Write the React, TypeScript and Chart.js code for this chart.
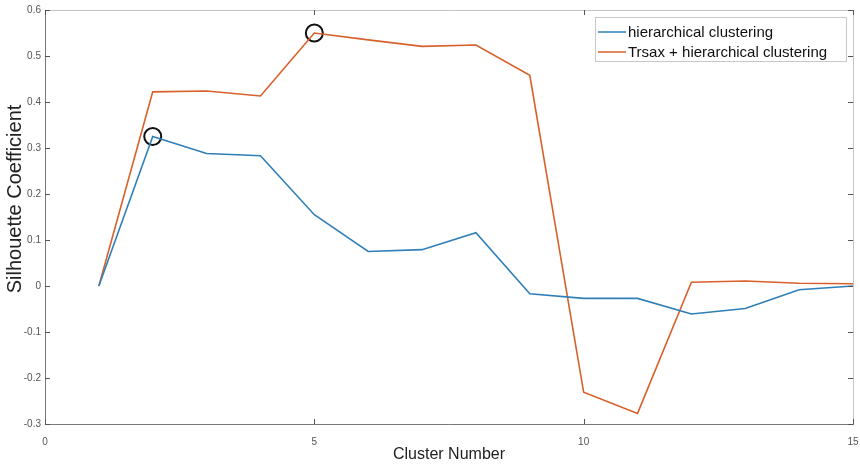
import React, { useEffect, useRef } from "react";
import { Chart, registerables } from "chart.js";

Chart.register(...registerables);

const clusterNumbers = [1, 2, 3, 4, 5, 6, 7, 8, 9, 10, 11, 12, 13, 14, 15];
const hierarchical = [0, 0.325, 0.288, 0.283, 0.155, 0.075, 0.079, 0.116, -0.017, -0.027, -0.027, -0.061, -0.049, -0.008, 0.0];
const trsaxHierarchical = [0, 0.422, 0.424, 0.413, 0.55, 0.535, 0.521, 0.524, 0.458, -0.231, -0.277, 0.008, 0.011, 0.006, 0.005];
const highlightX = [2, 5];
const highlightY = [0.325, 0.55];
const seriesLabels = ["hierarchical clustering", "Trsax + hierarchical clustering"];
const seriesColors = ["#2f7fb8", "#d8602a"];
const xTitle = "Cluster Number";
const yTitle = "Silhouette Coefficient";

const FONT = "'Liberation Sans', Arial, sans-serif";

const decorPlugin = {
  id: "decor",
  afterDraw(chart: any) {
    const { ctx, chartArea } = chart;
    const { left, right, top, bottom } = chartArea;
    const xs = chart.scales.x;
    const ys = chart.scales.y;
    ctx.save();
    // top/right box lines
    ctx.strokeStyle = "#c4c4c4";
    ctx.lineWidth = 1;
    ctx.beginPath();
    ctx.moveTo(left, top + 0.5);
    ctx.lineTo(right + 0.5, top + 0.5);
    ctx.lineTo(right + 0.5, bottom);
    ctx.stroke();
    // inward ticks
    ctx.strokeStyle = "#555";
    ctx.beginPath();
    const tl = 5;
    xs.ticks.forEach((t: any) => {
      const px = Math.round(xs.getPixelForValue(t.value)) + 0.5;
      ctx.moveTo(px, bottom);
      ctx.lineTo(px, bottom - tl);
      ctx.moveTo(px, top);
      ctx.lineTo(px, top + tl);
    });
    ys.ticks.forEach((t: any) => {
      const py = Math.round(ys.getPixelForValue(t.value)) + 0.5;
      ctx.moveTo(left, py);
      ctx.lineTo(left + tl, py);
      ctx.moveTo(right, py);
      ctx.lineTo(right - tl, py);
    });
    ctx.stroke();

    // axis titles
    ctx.fillStyle = "#222";
    ctx.textAlign = "center";
    ctx.textBaseline = "middle";
    ctx.font = `16px ${FONT}`;
    ctx.fillText(xTitle, (left + right) / 2, 455);
    ctx.save();
    ctx.translate(15, 199);
    ctx.rotate(-Math.PI / 2);
    ctx.font = `20px ${FONT}`;
    ctx.fillText(yTitle, 0, 0);
    ctx.restore();

    // legend
    const bx = 595, by = 17, bw = 251, bh = 44;
    ctx.fillStyle = "#fff";
    ctx.fillRect(bx, by, bw, bh);
    ctx.strokeStyle = "#c8c8c8";
    ctx.strokeRect(bx + 0.5, by + 0.5, bw, bh);
    ctx.font = `15px ${FONT}`;
    ctx.textAlign = "left";
    seriesLabels.forEach((lab, i) => {
      const cy = by + 15 + i * 20;
      ctx.strokeStyle = seriesColors[i];
      ctx.lineWidth = 1.5;
      ctx.beginPath();
      ctx.moveTo(598, cy);
      ctx.lineTo(626, cy);
      ctx.stroke();
      ctx.fillStyle = "#111";
      ctx.fillText(lab, 628, cy + 1);
    });
    ctx.restore();
  },
};

export default function App() {
  const ref = useRef<HTMLCanvasElement>(null);
  useEffect(() => {
    document.body.style.margin = "0";
    const chart = new Chart(ref.current as HTMLCanvasElement, {
      type: "line",
      data: {
        datasets: [
          {
            label: seriesLabels[0],
            data: clusterNumbers.map((x, i) => ({ x, y: hierarchical[i] })),
            borderColor: seriesColors[0],
            borderWidth: 1.6,
            pointRadius: 0,
            tension: 0,
          },
          {
            label: seriesLabels[1],
            data: clusterNumbers.map((x, i) => ({ x, y: trsaxHierarchical[i] })),
            borderColor: seriesColors[1],
            borderWidth: 1.6,
            pointRadius: 0,
            tension: 0,
          },
          {
            label: "highlight",
            data: highlightX.map((x, i) => ({ x, y: highlightY[i] })),
            showLine: false,
            pointRadius: 8.5,
            pointBorderWidth: 2,
            pointBorderColor: "#111",
            pointBackgroundColor: "rgba(0,0,0,0)",
          },
        ],
      },
      options: {
        animation: false,
        responsive: false,
        devicePixelRatio: 1,
        layout: { autoPadding: false, padding: { top: 10, right: 7, left: 0, bottom: 0 } },
        plugins: { legend: { display: false }, tooltip: { enabled: false } },
        font: { family: FONT },
        scales: {
          x: {
            type: "linear",
            min: 0,
            max: 15,
            ticks: { stepSize: 5, padding: 12, color: "#555", font: { size: 10, family: FONT }, maxRotation: 0 },
            grid: { display: false, drawTicks: false },
            border: { display: true, color: "#777", width: 1 },
            afterFit: (s: any) => {
              s.height = 40;
              s.paddingLeft = 0;
              s.paddingRight = 0;
            },
          },
          y: {
            min: -0.3,
            max: 0.6,
            ticks: { stepSize: 0.1, padding: 4, color: "#555", font: { size: 10, family: FONT } },
            grid: { display: false, drawTicks: false },
            border: { display: true, color: "#777", width: 1 },
            afterFit: (s: any) => {
              s.width = 45;
              s.paddingTop = 0;
              s.paddingBottom = 0;
            },
          },
        },
      } as any,
      plugins: [decorPlugin],
    });
    return () => chart.destroy();
  }, []);
  return (
    <div style={{ width: 860, height: 464 }}>
      <canvas ref={ref} width={860} height={464} />
    </div>
  );
}
